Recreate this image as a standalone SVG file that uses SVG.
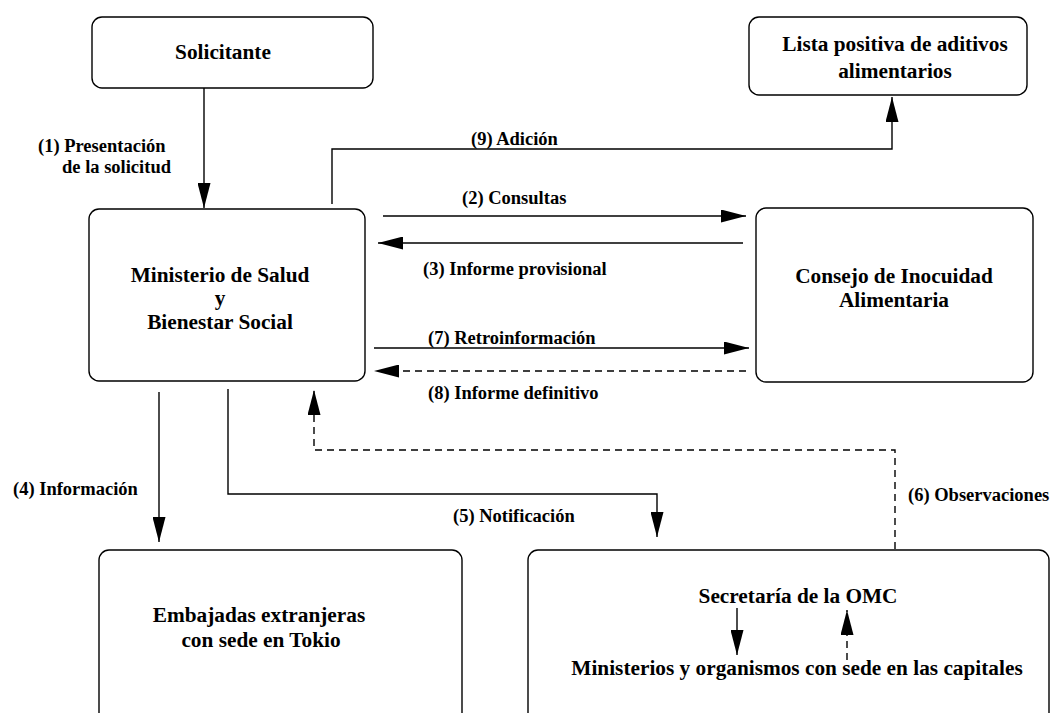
<svg xmlns="http://www.w3.org/2000/svg" width="1051" height="713" viewBox="0 0 1051 713">
<defs>
<marker id="ah" markerUnits="userSpaceOnUse" markerWidth="25" markerHeight="13" refX="25" refY="6.5" orient="auto" viewBox="0 0 25 13">
<path d="M0,0 L25,6.5 L0,13 z" fill="#000"/>
</marker>
</defs>
<style>
.box{fill:#fff;stroke:#000;stroke-width:1.4}
.nt{font-family:"Liberation Serif","Times New Roman",serif;font-weight:bold;font-size:21.3px;fill:#000;text-anchor:middle}
.lb{font-family:"Liberation Serif","Times New Roman",serif;font-weight:bold;font-size:18.5px;fill:#000}
.c{fill:none;stroke:#000;stroke-width:1.4}
.d{stroke-dasharray:7,5}
.a{marker-end:url(#ah)}
</style>
<rect width="1051" height="713" fill="#fff"/>
<g id="solicitante">
<rect class="box" x="92" y="17" width="281" height="71" rx="10"/>
<text class="nt" x="223" y="59">Solicitante</text>
</g>
<g id="lista">
<rect class="box" x="749" y="17" width="278" height="78" rx="10"/>
<text class="nt" x="895" y="51">Lista positiva de aditivos</text>
<text class="nt" x="895" y="78">alimentarios</text>
</g>
<g id="ministerio">
<rect class="box" x="89" y="209" width="276" height="172" rx="10"/>
<text class="nt" x="220" y="282">Ministerio de Salud</text>
<text class="nt" x="220" y="305">y</text>
<text class="nt" x="220" y="329">Bienestar Social</text>
</g>
<g id="consejo">
<rect class="box" x="756" y="208" width="277" height="174" rx="10"/>
<text class="nt" x="894" y="283">Consejo de Inocuidad</text>
<text class="nt" x="894" y="307">Alimentaria</text>
</g>
<g id="embajadas">
<rect class="box" x="99" y="550" width="363" height="200" rx="10"/>
<text class="nt" x="259" y="622">Embajadas extranjeras</text>
<text class="nt" x="261" y="647">con sede en Tokio</text>
</g>
<g id="omc">
<rect class="box" x="528" y="550" width="521" height="200" rx="10"/>
<text class="nt" x="798" y="603">Secretaría de la OMC</text>
<text class="nt" x="797" y="675">Ministerios y organismos con sede en las capitales</text>
</g>
<g id="connectors">
<path class="c a" d="M204,88 V208"/>
<path class="c a" d="M332,204 V149 H892 V97"/>
<path class="c a" d="M383,216 H746"/>
<path class="c a" d="M743,243 H378"/>
<path class="c a" d="M374,348 H749"/>
<path class="c d a" d="M746,371 H374"/>
<path class="c a" d="M159,392 V542"/>
<path class="c a" d="M228,389 V494 H657 V537"/>
<path class="c d a" d="M895,549 V450 H314 V390"/>
<path class="c a" d="M737,608 V655"/>
<path class="c d a" d="M847,660 V610"/>
</g>
<g id="labels">
<text class="lb" x="38" y="152">(1) Presentación</text>
<text class="lb" x="62" y="173">de la solicitud</text>
<text class="lb" x="471" y="145">(9) Adición</text>
<text class="lb" x="462" y="204">(2) Consultas</text>
<text class="lb" x="423" y="275">(3) Informe provisional</text>
<text class="lb" x="428" y="344">(7) Retroinformación</text>
<text class="lb" x="428" y="399">(8) Informe definitivo</text>
<text class="lb" x="13" y="495">(4) Información</text>
<text class="lb" x="453" y="522">(5) Notificación</text>
<text class="lb" x="908" y="501">(6) Observaciones</text>
</g>
</svg>
